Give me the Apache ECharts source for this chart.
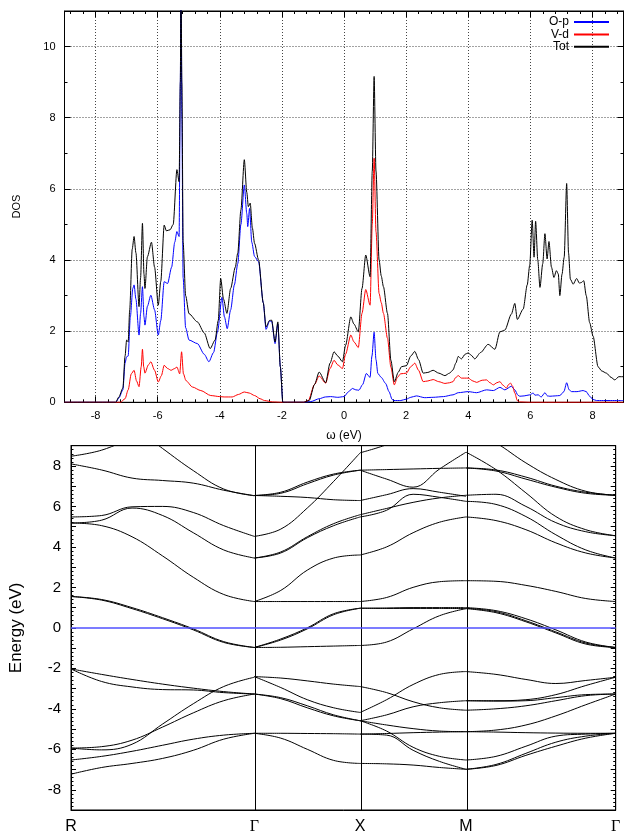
<!DOCTYPE html>
<html>
<head>
<meta charset="utf-8">
<script src="https://cdn.jsdelivr.net/npm/echarts@6.0.0/dist/echarts.min.js"></script>
<style>
html,body{margin:0;padding:0;background:#fff;}
#chart{width:628px;height:835px;}
</style>
</head>
<body>
<div id="chart"></div>
<script>
// ---------- DOS data (energy in eV, DOS) ----------
const totE = [-9,-7.35,-7.25,-7.12,-7.05,-7.0,-6.95,-6.9,-6.82,-6.76,-6.7,-6.6,-6.55,-6.49,-6.44,-6.41,-6.33,-6.2,-6.1,-5.98,-5.9,-5.79,-5.72,-5.6,-5.5,-5.38,-5.31,-5.27,-5.25,-5.22,-5.18,-5.1,-4.99,-4.72,-4.5,-4.31,-4.15,-4.05,-3.97,-3.88,-3.77,-3.65,-3.5,-3.42,-3.32,-3.21,-3.13,-3.08,-3.02,-2.95,-2.88,-2.75,-2.6,-2.51,-2.4,-2.33,-2.22,-2.13,-2.05,-1.97,-1.3,-1.12,-0.95,-0.8,-0.59,-0.45,-0.32,-0.2,-0.05,0.05,0.22,0.32,0.46,0.58,0.7,0.84,0.91,0.97,1.03,1.13,1.2,1.27,1.4,1.51,1.62,1.75,1.85,2.01,2.15,2.28,2.4,2.55,2.7,2.87,3.05,3.25,3.4,3.51,3.6,3.68,3.78,3.9,4.0,4.1,4.21,4.4,4.64,4.86,5.02,5.18,5.39,5.5,5.58,5.77,5.9,5.98,6.06,6.12,6.17,6.24,6.31,6.4,6.47,6.54,6.6,6.68,6.76,6.84,6.9,6.95,7.02,7.09,7.17,7.23,7.29,7.38,7.49,7.58,7.65,7.72,7.8,7.91,8.02,8.18,8.3,8.45,8.6,8.72,8.85,9.0];
const totD = [0,0,0.15,0.4,1.3,1.75,1.7,2.6,4.3,4.66,4.2,2.69,3.5,5.03,3.6,3.2,4.09,4.5,3.8,2.73,3.4,4.98,4.82,4.85,5.0,6.54,6.2,9,12,9,4.5,3.0,2.49,2.26,1.95,1.51,1.75,2.3,3.48,2.9,2.5,3.2,3.8,4.2,5.41,6.82,5.9,5.5,5.6,4.9,4.47,4.0,2.8,2.12,2.3,2.31,1.7,2.26,1.0,0,0,0.05,0.5,0.85,0.55,1.1,1.42,1.3,1.14,1.6,2.4,2.2,1.98,3.2,4.14,3.53,6.5,9.16,6.5,4.0,3.55,3.25,2.5,1.18,0.58,0.85,1.0,1.03,1.3,1.43,1.2,0.82,0.84,0.9,0.82,0.75,0.82,0.91,1.1,1.29,1.22,1.35,1.39,1.32,1.22,1.4,1.63,1.49,1.98,2.03,2.48,2.78,2.33,2.62,3.3,3.85,5.12,4.08,5.09,4.0,3.23,3.9,4.74,4.03,4.52,3.8,3.51,3.7,3.61,3.0,3.6,4.08,6.15,4.2,3.46,3.32,3.48,3.35,3.37,3.42,3.0,2.24,1.86,1.0,0.88,0.82,0.7,0.63,0.72,0.72];

const opE = [-9,-7.35,-7.25,-7.12,-7.05,-7.0,-6.95,-6.88,-6.8,-6.76,-6.7,-6.6,-6.55,-6.49,-6.44,-6.41,-6.33,-6.22,-6.1,-5.98,-5.9,-5.79,-5.68,-5.55,-5.45,-5.38,-5.31,-5.27,-5.25,-5.22,-5.18,-5.1,-4.99,-4.72,-4.5,-4.35,-4.2,-4.07,-3.93,-3.85,-3.76,-3.65,-3.53,-3.42,-3.32,-3.21,-3.13,-3.1,-3.04,-2.97,-2.88,-2.75,-2.6,-2.51,-2.4,-2.33,-2.22,-2.13,-2.05,-1.97,-1.3,-1.07,-0.8,-0.6,-0.43,-0.2,0.0,0.15,0.27,0.38,0.48,0.6,0.72,0.84,0.9,0.97,1.03,1.09,1.2,1.34,1.45,1.55,1.61,1.83,2.01,2.15,2.33,2.6,2.87,3.2,3.51,3.68,4.0,4.27,4.59,4.81,5.02,5.18,5.39,5.5,5.6,5.66,5.8,5.98,6.09,6.15,6.25,6.35,6.47,6.55,6.63,6.8,6.95,7.08,7.17,7.25,7.33,7.5,7.7,7.8,7.91,8.02,8.13,9.0];
const opD = [0,0,0.12,0.35,1.1,1.28,1.3,2.4,3.2,3.3,2.9,1.89,2.5,3.25,2.4,2.17,2.7,3.01,2.6,1.89,2.3,3.39,3.34,3.8,4.5,4.8,4.66,9,12,8,3.5,2.1,1.75,1.65,1.35,1.14,1.4,2.0,2.95,2.4,2.07,2.6,3.3,3.9,5.0,6.11,5.3,4.94,5.45,4.5,4.1,3.95,2.8,2.05,2.28,2.28,1.65,2.2,1.0,0,0,0.02,0.1,0.15,0.16,0.14,0.16,0.3,0.39,0.35,0.34,0.5,0.81,0.7,1.3,1.97,1.2,0.81,0.7,0.53,0.3,0.08,0.05,0.05,0.09,0.14,0.18,0.13,0.14,0.16,0.21,0.27,0.3,0.27,0.35,0.33,0.42,0.35,0.45,0.35,0.2,0.17,0.18,0.21,0.26,0.2,0.21,0.15,0.27,0.18,0.17,0.18,0.19,0.3,0.55,0.35,0.3,0.3,0.33,0.3,0.17,0.08,0.05,0.05];

const vdE = [-9,-7.2,-7.05,-6.95,-6.85,-6.76,-6.68,-6.6,-6.53,-6.49,-6.45,-6.41,-6.3,-6.22,-6.1,-5.98,-5.88,-5.79,-5.68,-5.57,-5.45,-5.38,-5.29,-5.23,-5.17,-5.09,-4.88,-4.61,-4.29,-4.0,-3.86,-3.6,-3.4,-3.21,-3.05,-2.88,-2.7,-2.56,-2.3,-2.0,-1.3,-1.15,-0.95,-0.8,-0.59,-0.45,-0.32,-0.2,-0.05,0.05,0.22,0.32,0.46,0.58,0.7,0.84,0.91,0.97,1.03,1.13,1.2,1.27,1.4,1.51,1.62,1.72,1.82,2.01,2.15,2.28,2.4,2.55,2.7,2.87,3.05,3.25,3.4,3.51,3.6,3.68,3.78,4.0,4.15,4.27,4.45,4.59,4.7,4.81,4.92,5.02,5.12,5.23,5.3,5.36,5.43,5.5,5.58,5.65,6.0,9.0];
const vdD = [0,0,0.1,0.35,0.8,0.9,0.6,0.44,1.0,1.49,1.0,0.82,1.05,1.14,0.9,0.57,0.75,1.04,0.95,0.9,0.95,0.99,0.8,1.42,0.8,0.61,0.43,0.33,0.19,0.16,0.15,0.15,0.22,0.29,0.26,0.19,0.1,0.05,0.01,0,0,0.05,0.5,0.74,0.54,0.95,1.18,1.05,0.95,1.35,1.89,1.7,1.54,2.5,3.17,2.73,5.0,6.86,4.8,3.06,2.8,2.5,1.8,0.99,0.49,0.7,0.8,0.82,1.0,1.1,0.9,0.58,0.6,0.64,0.58,0.53,0.55,0.58,0.7,0.75,0.68,0.68,0.6,0.56,0.62,0.63,0.55,0.49,0.55,0.58,0.48,0.4,0.5,0.54,0.45,0.26,0.05,0.01,0,0];

// ---------- Band structure data ----------
const kLabels = ['R', 'Γ', 'X', 'M', 'Γ'];
const kNodes = [0, 0.866, 1.366, 1.866, 2.573];

const fracRG = [0, 0.167, 0.333, 0.5, 0.667, 0.833, 1];
const bandsRG = [
  [8.48, 8.78, 9.4, null, null, null, null],
  [null, null, 10.0, 8.86, 7.77, 6.86, 6.53],
  [8.1, 7.8, 7.4, 7.28, 7.15, 6.8, 6.53],
  [5.48, 5.55, 5.98, 6.0, 5.7, 5.05, 4.52],
  [5.18, 5.32, 5.92, 5.55, 4.7, 3.85, 3.45],
  [5.18, 5.05, 4.5, 3.55, 2.5, 1.65, 1.3],
  [1.55, 1.4, 1.0, 0.5, -0.05, -0.68, -0.97],
  [1.55, 1.37, 0.95, 0.45, -0.1, -0.72, -0.97],
  [-2.03, -2.3, -2.55, -2.78, -2.98, -3.15, -3.27],
  [-2.03, -2.65, -2.92, -3.05, -3.07, -3.2, -3.27],
  [-5.94, -6.03, -5.75, -4.75, -3.75, -2.9, -2.44],
  [-5.94, -5.87, -5.55, -4.9, -4.2, -3.6, -3.27],
  [-6.53, -6.35, -6.1, -5.8, -5.5, -5.3, -5.21],
  [-7.23, -6.9, -6.7, -6.45, -6.05, -5.5, -5.21]
];

const fracGX = [0, 0.25, 0.5, 0.75, 1];
const bandsGX = [
  [6.54, 6.7, 7.2, 7.6, 7.79],
  [6.54, 6.65, 7.12, 7.55, 7.79],
  [6.54, 6.5, 6.44, 6.33, 6.29],
  [4.52, 4.88, 5.92, 7.24, 8.65],
  [3.45, 3.75, 4.5, 5.15, 5.59],
  [3.45, 3.7, 4.45, 5.05, 5.48],
  [1.3, 1.85, 2.85, 3.45, 3.6],
  [1.3, 1.3, 1.3, 1.3, 1.3],
  [-0.97, -0.55, 0.0, 0.7, 0.97],
  [-0.97, -0.6, -0.05, 0.65, 0.97],
  [-0.97, -0.96, -0.93, -0.9, -0.87],
  [-2.41, -2.48, -2.62, -2.78, -2.9],
  [-2.41, -2.95, -3.55, -3.95, -4.18],
  [-3.27, -3.45, -3.85, -4.3, -4.59],
  [-3.27, -3.5, -3.95, -4.35, -4.59],
  [-5.21, -5.21, -5.22, -5.23, -5.25],
  [-5.21, -5.45, -6.0, -6.55, -6.7]
];

const fracXM = [0, 0.25, 0.5, 0.75, 1];
const bandsXM = [
  [8.65, 9.05, 9.6, null, null],
  [7.79, 7.82, 7.85, 7.88, 7.9],
  [7.79, 7.35, 6.95, 7.85, 8.68],
  [6.29, 6.58, 6.88, 6.7, 6.5],
  [5.48, 5.81, 6.6, 6.45, 6.25],
  [5.59, 5.9, 6.2, 6.42, 6.55],
  [3.6, 4.0, 4.7, 5.22, 5.48],
  [1.3, 1.5, 2.0, 2.28, 2.33],
  [0.97, 0.98, 1.0, 1.0, 1.0],
  [0.97, 0.96, 0.96, 0.96, 0.95],
  [-0.87, -0.7, -0.05, 0.6, 0.95],
  [-4.18, -3.55, -2.8, -2.3, -2.16],
  [-2.9, -3.2, -3.65, -3.95, -4.07],
  [-4.59, -4.3, -3.9, -3.7, -3.6],
  [-4.59, -4.8, -4.98, -5.1, -5.13],
  [-4.59, -5.1, -5.9, -6.35, -6.53],
  [-5.25, -5.3, -6.05, -6.6, -6.99],
  [-6.7, -6.72, -6.78, -6.9, -6.99],
  [-5.25, -5.22, -5.18, -5.15, -5.13]
];

const fracMG = [0, 0.2, 0.4, 0.6, 0.8, 1];
const bandsMG = [
  [9.9, 9.14, 8.15, 7.33, 6.75, 6.55],
  [7.9, 7.8, 7.45, 7.0, 6.7, 6.55],
  [7.9, 7.75, 7.35, 6.95, 6.65, 6.55],
  [8.68, 7.82, 6.67, 5.5, 4.85, 4.55],
  [6.55, 6.6, 6.0, 5.2, 4.75, 4.55],
  [6.25, 6.1, 5.5, 4.6, 3.85, 3.45],
  [5.48, 5.3, 4.85, 4.2, 3.7, 3.45],
  [2.33, 2.3, 2.1, 1.8, 1.45, 1.3],
  [1.0, 0.85, 0.45, -0.1, -0.7, -0.97],
  [0.97, 0.8, 0.35, -0.2, -0.75, -0.97],
  [0.95, 0.75, 0.3, -0.25, -0.8, -0.97],
  [-2.16, -2.3, -2.55, -2.75, -2.6, -2.44],
  [-3.6, -3.6, -3.55, -3.3, -2.85, -2.44],
  [-3.6, -3.62, -3.6, -3.45, -3.3, -3.27],
  [-4.07, -4.0, -3.85, -3.6, -3.35, -3.27],
  [-5.13, -5.05, -4.8, -4.35, -3.8, -3.27],
  [-5.13, -5.15, -5.18, -5.2, -5.21, -5.21],
  [-6.53, -6.35, -5.85, -5.35, -5.25, -5.21],
  [-6.99, -6.8, -6.3, -5.85, -5.45, -5.21],
  [-6.99, -6.75, -6.2, -5.65, -5.35, -5.21]
];

const fermiLevel = 0;

// ---------- build ----------
const FONT = '"Liberation Sans", Arial, Helvetica, sans-serif';
function pairs(xs, ys) { return xs.map((x, i) => [x, ys[i]]); }

function bandSeries(k0, k1, fracs, bands) {
  return bands.map(b => ({
    type: 'line', xAxisIndex: 2, yAxisIndex: 2, silent: true,
    symbol: 'none', showSymbol: false, smooth: 0.4,
    lineStyle: { color: '#000', width: 1 },
    data: fracs.map((f, i) => b[i] == null ? null : [k0 + f * (k1 - k0), b[i]]).filter(p => p)
  }));
}

const bandList = [].concat(
  bandSeries(kNodes[0], kNodes[1], fracRG, bandsRG),
  bandSeries(kNodes[1], kNodes[2], fracGX, bandsGX),
  bandSeries(kNodes[2], kNodes[3], fracXM, bandsXM),
  bandSeries(kNodes[3], kNodes[4], fracMG, bandsMG)
);

bandList[0].markLine = {
  silent: true, symbol: ['none', 'none'], label: { show: false },
  animation: false,
  data: [
    { xAxis: kNodes[1], lineStyle: { color: '#000', width: 1, type: 'solid' } },
    { xAxis: kNodes[2], lineStyle: { color: '#000', width: 1, type: 'solid' } },
    { xAxis: kNodes[3], lineStyle: { color: '#000', width: 1, type: 'solid' } },
    { yAxis: fermiLevel, lineStyle: { color: '#5050ff', width: 1.5, type: 'solid' } }
  ]
};

function dosSeries(name, color, xs, ys) {
  return {
    name, type: 'line', xAxisIndex: 0, yAxisIndex: 0,
    symbol: 'none', showSymbol: false, smooth: 0.25, smoothMonotone: 'x',
    color, lineStyle: { color, width: 1 }, itemStyle: { color },
    data: pairs(xs, ys)
  };
}

const tickLabelStyle = { color: '#000', fontFamily: FONT };
const axLine = { show: true, onZero: false, lineStyle: { color: '#000' } };

const option = {
  animation: false,
  backgroundColor: '#fff',
  textStyle: { fontFamily: FONT },
  legend: {
    data: ['O-p', 'V-d', 'Tot'],
    orient: 'vertical', right: 19, top: 16, align: 'right',
    itemWidth: 35, itemHeight: 2, itemGap: 0.4, icon: 'rect',
    padding: 0,
    textStyle: { fontSize: 12, fontFamily: FONT, color: '#000', lineHeight: 12 }
  },
  grid: [
    { left: 64.5, top: 11, width: 559, height: 391.3, show: true, borderColor: '#000', borderWidth: 1, containLabel: false },
    { left: 70, top: 445.7, width: 545.7, height: 364.3, show: true, borderColor: '#000', borderWidth: 1, containLabel: false }
  ],
  xAxis: [
    {
      gridIndex: 0, type: 'value', min: -9, max: 9, splitNumber: 9, position: 'bottom',
      name: 'ω (eV)', nameLocation: 'middle', nameGap: 27,
      nameTextStyle: { fontSize: 12, color: '#000', fontFamily: FONT },
      axisLine: axLine,
      axisTick: { inside: true, length: 6, lineStyle: { color: '#000' } },
      minorTick: { show: true, splitNumber: 5, length: 3, lineStyle: { color: '#000' } },
      axisLabel: Object.assign({ fontSize: 11, margin: 8, showMinLabel: false, showMaxLabel: false }, tickLabelStyle),
      splitLine: { show: true, lineStyle: { color: '#444', width: 1, type: [1, 2] } }
    },
    {
      gridIndex: 0, type: 'value', min: -9, max: 9, splitNumber: 9, position: 'top',
      axisLine: axLine,
      axisTick: { inside: true, length: 6, lineStyle: { color: '#000' } },
      minorTick: { show: true, splitNumber: 5, length: 3, lineStyle: { color: '#000' } },
      axisLabel: { show: false }, splitLine: { show: false }
    },
    {
      gridIndex: 1, type: 'value', min: kNodes[0], max: kNodes[kNodes.length - 1], position: 'bottom',
      axisLine: axLine,
      axisTick: { show: false },
      axisLabel: Object.assign({
        fontSize: 16, margin: 9,
        customValues: kNodes,
        formatter: function (v) {
          let best = 0;
          kNodes.forEach((k, i) => { if (Math.abs(k - v) < Math.abs(kNodes[best] - v)) best = i; });
          const t = kLabels[best];
          return t === 'Γ' ? '{g|Γ}' : t;
        },
        rich: { g: { fontFamily: '"Liberation Serif", "DejaVu Serif", serif', fontSize: 16, color: '#000' } }
      }, tickLabelStyle),
      splitLine: { show: false }
    },
    {
      gridIndex: 1, type: 'value', min: kNodes[0], max: kNodes[kNodes.length - 1], position: 'top',
      axisLine: axLine,
      axisTick: { show: false }, axisLabel: { show: false }, splitLine: { show: false }
    }
  ],
  yAxis: [
    {
      gridIndex: 0, type: 'value', min: 0, max: 11, interval: 2, position: 'left',
      name: 'DOS', nameLocation: 'middle', nameGap: 42, nameRotate: 90,
      nameTextStyle: { fontSize: 11, color: '#000', fontFamily: FONT },
      axisLine: axLine,
      axisTick: { show: true, inside: true, length: 6, lineStyle: { color: '#000' } },
      minorTick: { show: true, splitNumber: 2, length: 3, lineStyle: { color: '#000' } },
      axisLabel: Object.assign({ fontSize: 11, margin: 9, showMaxLabel: false }, tickLabelStyle),
      splitLine: { show: true, lineStyle: { color: '#444', width: 1, type: [1, 2] } }
    },
    {
      gridIndex: 0, type: 'value', min: 0, max: 11, interval: 2, position: 'right',
      axisLine: axLine,
      axisTick: { show: true, inside: true, length: 6, lineStyle: { color: '#000' } },
      minorTick: { show: true, splitNumber: 2, length: 3, lineStyle: { color: '#000' } },
      axisLabel: { show: false }, splitLine: { show: false }
    },
    {
      gridIndex: 1, type: 'value', min: -9, max: 9, interval: 1, position: 'left',
      name: 'Energy (eV)', nameLocation: 'middle', nameGap: 46, nameRotate: 90,
      nameTextStyle: { fontSize: 17, color: '#000', fontFamily: FONT },
      axisLine: axLine,
      axisTick: { show: true, inside: true, length: 5, lineStyle: { color: '#000' } },
      minorTick: { show: true, splitNumber: 5, length: 2.5, lineStyle: { color: '#000' } },
      axisLabel: Object.assign({
        fontSize: 15, margin: 10,
        formatter: v => (Math.round(v) % 2 === 0 ? String(Math.round(v)) : '')
      }, tickLabelStyle),
      splitLine: { show: false }
    },
    {
      gridIndex: 1, type: 'value', min: -9, max: 9, interval: 1, position: 'right',
      axisLine: axLine,
      axisTick: { show: true, inside: true, length: 5, lineStyle: { color: '#000' } },
      minorTick: { show: true, splitNumber: 5, length: 2.5, lineStyle: { color: '#000' } },
      axisLabel: { show: false }, splitLine: { show: false }
    }
  ],
  series: [
    dosSeries('O-p', '#0000ff', opE, opD),
    dosSeries('V-d', '#ff0000', vdE, vdD),
    dosSeries('Tot', '#000000', totE, totD)
  ].concat(bandList)
};

const chart = echarts.init(document.getElementById('chart'), null, { renderer: 'canvas', width: 628, height: 835 });
chart.setOption(option);
</script>
</body>
</html>
